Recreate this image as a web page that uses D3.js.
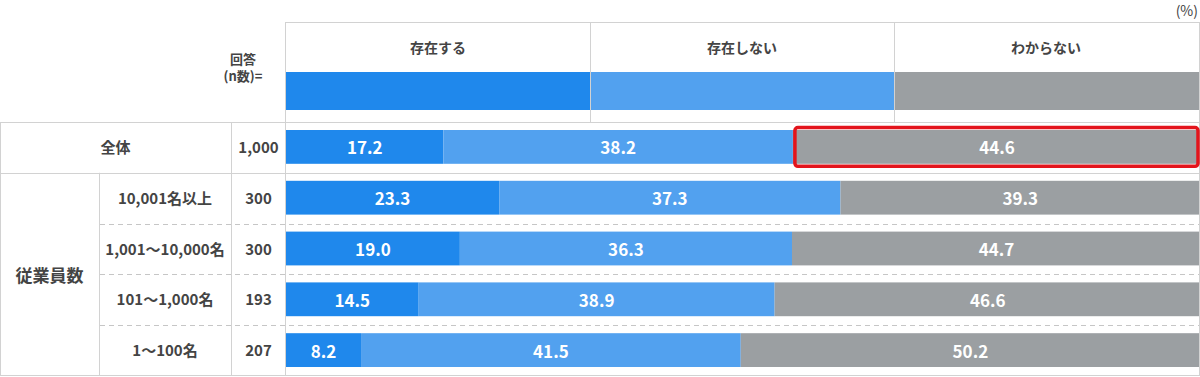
<!DOCTYPE html>
<html>
<script src="https://d3js.org/d3.v7.min.js"></script>

<head>
    <style>
        body {
            margin: 0;
            background-color: #ffffff;
            font-family: "Noto Sans CJK JP", "Noto Sans", sans-serif;
        }

        svg {
            display: block;
        }
    </style>
</head>

<body>
    <div id="vis"></div>
</body>
<script>
    // answer categories and values (%) per row
    const categories = ["存在する", "存在しない", "わからない"];
    const rowLabels = ["全体", "10,001名以上", "1,001～10,000名", "101～1,000名", "1～100名"];
    const groupLabel = "従業員数";
    const nValues = [1000, 300, 300, 193, 207];
    const exists = [17.2, 23.3, 19.0, 14.5, 8.2];
    const notExists = [38.2, 37.3, 36.3, 38.9, 41.5];
    const unknown = [44.6, 39.3, 44.7, 46.6, 50.2];

    const width = 1200,
        height = 377;
    const svg = d3.select("#vis").append("svg").attr("width", width).attr("height", height);

    const colors = ["#1f88ec", "#52a1ef", "#9b9fa2"];
    const textColor = "#444";
    const lineColor = "#d2d2d2";

    const plotLeft = 286, plotRight = 1198;
    const headerTop = 22, tableTop = 122, tableBottom = 376;
    const groupRight = 99, labelRight = 231;

    const data = rowLabels.map((r, i) => ({
        row: r,
        n: nValues[i],
        [categories[0]]: exists[i],
        [categories[1]]: notExists[i],
        [categories[2]]: unknown[i]
    }));

    // the bars run slightly past the frame on the right, clipped below
    const x = d3.scaleLinear().domain([0, 100]).range([plotLeft, 1201]);
    const y = d3.scaleBand().domain(rowLabels).range([tableTop, tableBottom]);
    const legendX = d3.scaleBand().domain(categories).range([plotLeft, plotRight]);
    const color = d3.scaleOrdinal().domain(categories).range(colors);
    const stack = d3.stack().keys(categories);
    const series = stack(data);
    const fmt = d3.format(".1f");
    const barPad = 8;
    const barH = y.bandwidth() - 17;

    svg.append("clipPath").attr("id", "plotclip")
        .append("rect").attr("x", plotLeft).attr("y", 0)
        .attr("width", plotRight - plotLeft + 1).attr("height", height);

    // header: legend
    const header = svg.append("g");
    header.selectAll(".legbar")
        .data(categories)
        .join("rect")
        .attr("class", "legbar")
        .attr("x", d => legendX(d))
        .attr("y", 72)
        .attr("width", legendX.bandwidth() + 1)
        .attr("height", 38)
        .attr("fill", d => color(d));
    header.selectAll(".legtext")
        .data(categories)
        .join("text")
        .attr("class", "legtext")
        .attr("x", d => legendX(d) + legendX.bandwidth() / 2)
        .attr("y", 47)
        .attr("text-anchor", "middle")
        .attr("dominant-baseline", "central")
        .attr("font-size", 14)
        .attr("font-weight", "bold")
        .attr("fill", textColor)
        .text(d => d);
    header.selectAll(".legline")
        .data(categories.slice(1))
        .join("line")
        .attr("x1", d => legendX(d) + 0.5)
        .attr("x2", d => legendX(d) + 0.5)
        .attr("y1", headerTop)
        .attr("y2", tableTop)
        .attr("stroke", lineColor);

    svg.append("text")
        .attr("x", 1198).attr("y", 10)
        .attr("text-anchor", "end")
        .attr("dominant-baseline", "central")
        .attr("font-size", 14)
        .attr("fill", textColor)
        .text("(%)");
    svg.append("text")
        .attr("x", 243).attr("y", 58)
        .attr("text-anchor", "middle")
        .attr("dominant-baseline", "central")
        .attr("font-size", 13)
        .attr("font-weight", "bold")
        .attr("fill", textColor)
        .text("回答");
    svg.append("text")
        .attr("x", 243).attr("y", 75)
        .attr("text-anchor", "middle")
        .attr("dominant-baseline", "central")
        .attr("font-size", 13)
        .attr("font-weight", "bold")
        .attr("fill", textColor)
        .text("(n数)=");

    // bars
    const bars = svg.append("g").attr("clip-path", "url(#plotclip)");
    bars.selectAll("g")
        .data(series)
        .join("g")
        .attr("fill", d => color(d.key))
        .selectAll("rect")
        .data(d => d)
        .join("rect")
        .attr("x", d => x(d[0]))
        .attr("y", d => y(d.data.row) + barPad)
        .attr("width", d => x(d[1]) - x(d[0]))
        .attr("height", barH);

    const labels = svg.append("g");
    labels.selectAll("g")
        .data(series)
        .join("g")
        .selectAll("text")
        .data(d => d.map(v => ({ v, key: d.key })))
        .join("text")
        .attr("x", d => (x(d.v[0]) + x(Math.min(d.v[1], 100))) / 2)
        .attr("y", d => y(d.v.data.row) + barPad + barH / 2)
        .attr("text-anchor", "middle")
        .attr("dominant-baseline", "central")
        .attr("font-size", 17)
        .attr("font-weight", "bold")
        .attr("fill", "white")
        .text(d => fmt(d.v.data[d.key]));

    // table lines
    const grid = svg.append("g").attr("stroke", lineColor).attr("fill", "none");
    grid.append("line").attr("x1", plotLeft - 1).attr("x2", 1199).attr("y1", headerTop + 0.5).attr("y2", headerTop + 0.5);
    grid.append("line").attr("x1", 1199.5).attr("x2", 1199.5).attr("y1", headerTop).attr("y2", tableBottom);
    grid.append("line").attr("x1", plotLeft - 0.5).attr("x2", plotLeft - 0.5).attr("y1", headerTop).attr("y2", tableBottom);
    grid.append("line").attr("x1", 0).attr("x2", 1200).attr("y1", tableTop + 0.5).attr("y2", tableTop + 0.5);
    grid.append("line").attr("x1", 0).attr("x2", 1200).attr("y1", tableBottom - 0.5).attr("y2", tableBottom - 0.5);
    grid.append("line").attr("x1", 0.5).attr("x2", 0.5).attr("y1", tableTop).attr("y2", tableBottom);
    grid.append("line").attr("x1", labelRight + 0.5).attr("x2", labelRight + 0.5).attr("y1", tableTop).attr("y2", tableBottom);
    grid.append("line").attr("x1", groupRight + 0.5).attr("x2", groupRight + 0.5).attr("y1", y(rowLabels[1])).attr("y2", tableBottom);
    grid.append("line").attr("x1", 0).attr("x2", 1200)
        .attr("y1", Math.round(y(rowLabels[1])) + 0.5).attr("y2", Math.round(y(rowLabels[1])) + 0.5);
    grid.selectAll(".dash")
        .data(rowLabels.slice(2))
        .join("line")
        .attr("class", "dash")
        .attr("x1", groupRight + 1).attr("x2", 1199)
        .attr("y1", d => Math.round(y(d)) + 0.5).attr("y2", d => Math.round(y(d)) + 0.5)
        .attr("stroke", "#c6c6c6")
        .attr("stroke-dasharray", "5,4");

    // row labels
    const rowText = svg.append("g")
        .attr("font-size", 15)
        .attr("font-weight", "bold")
        .attr("fill", textColor)
        .attr("text-anchor", "middle")
        .attr("dominant-baseline", "central");
    rowText.selectAll(".rl")
        .data(data)
        .join("text")
        .attr("class", "rl")
        .attr("x", (d, i) => i === 0 ? labelRight / 2 : (groupRight + labelRight) / 2)
        .attr("y", d => y(d.row) + y.bandwidth() / 2 - 1)
        .text(d => d.row);
    rowText.selectAll(".nl")
        .data(data)
        .join("text")
        .attr("class", "nl")
        .attr("x", (labelRight + plotLeft) / 2)
        .attr("y", d => y(d.row) + y.bandwidth() / 2 - 1)
        .text(d => d3.format(",")(d.n));
    rowText.append("text")
        .attr("x", groupRight / 2)
        .attr("y", (y(rowLabels[1]) + tableBottom) / 2)
        .attr("font-size", 17)
        .text(groupLabel);

    // highlight on the 全体 / わからない segment
    const hl = series[2][0];
    svg.append("rect")
        .attr("x", x(hl[0]) + 2)
        .attr("y", y(rowLabels[0]) + barPad - 2.5)
        .attr("width", plotRight - x(hl[0]) - 2)
        .attr("height", barH + 5)
        .attr("rx", 3)
        .attr("fill", "none")
        .attr("stroke", "#e3141c")
        .attr("stroke-width", 3.5);
</script>

</html>
